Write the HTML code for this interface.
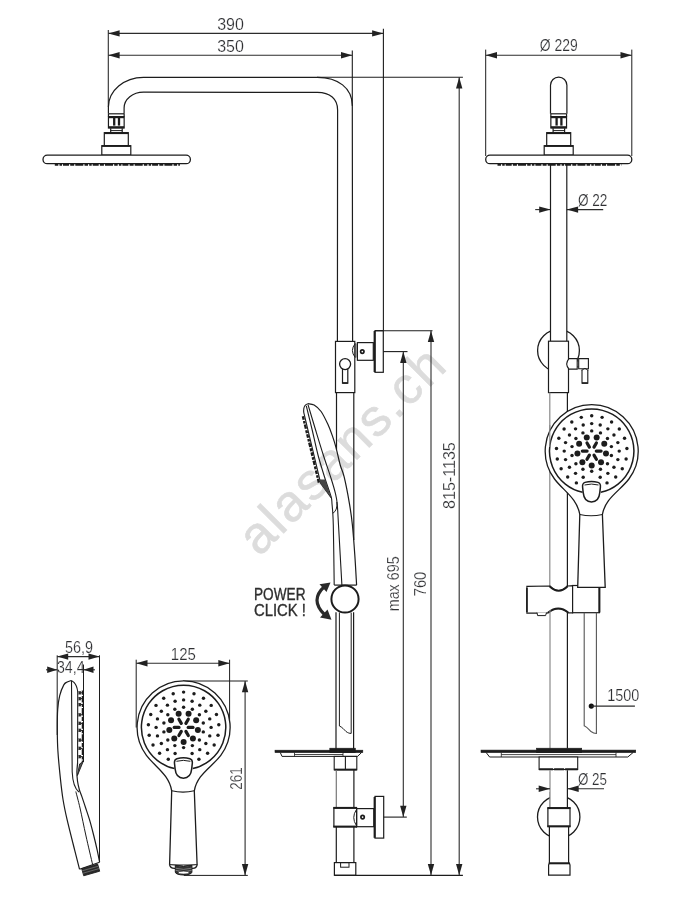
<!DOCTYPE html>
<html lang="en"><head><meta charset="utf-8"><title>Shower column - technical drawing</title>
<style>
html,body{margin:0;padding:0;background:#fff;}
body{width:690px;height:905px;overflow:hidden;}
svg{display:block;will-change:transform;}
svg text{font-family:"Liberation Sans",sans-serif;}
</style></head><body>
<svg width="690" height="905" viewBox="0 0 690 905">
<rect width="690" height="905" fill="#fff"/>
<g id="wm">
<text x="259.30" y="557.60" font-size="52" text-anchor="start" fill="#dcdcdc" transform="rotate(-45 259.30 557.60)" class="wm" letter-spacing="2.1" stroke="#dcdcdc" stroke-width="0.6">alasans.ch</text>
</g>
<g id="labels">
<text x="230.50" y="29.80" font-size="16" text-anchor="middle" fill="#303134" stroke="#fff" stroke-width="0.2" >390</text>
<text x="230.50" y="52.00" font-size="16" text-anchor="middle" fill="#303134" stroke="#fff" stroke-width="0.2" >350</text>
<text x="254.00" y="600.10" font-size="16.3" text-anchor="start" fill="#2e2e2e" textLength="51.5" lengthAdjust="spacingAndGlyphs" class="nothin" stroke="#2e2e2e" stroke-width="0.35">POWER</text>
<text x="254.00" y="616.30" font-size="16.3" text-anchor="start" fill="#2e2e2e" textLength="52" lengthAdjust="spacingAndGlyphs" class="nothin" stroke="#2e2e2e" stroke-width="0.35">CLICK !</text>
<text x="398.90" y="611.30" font-size="16" text-anchor="start" fill="#303134" transform="rotate(-90 398.90 611.30)" textLength="55" lengthAdjust="spacingAndGlyphs" stroke="#fff" stroke-width="0.2" >max 695</text>
<text x="426.10" y="596.30" font-size="16" text-anchor="start" fill="#303134" transform="rotate(-90 426.10 596.30)" textLength="24.6" lengthAdjust="spacingAndGlyphs" stroke="#fff" stroke-width="0.2" >760</text>
<text x="455.40" y="509.00" font-size="16" text-anchor="start" fill="#303134" transform="rotate(-90 455.40 509.00)" textLength="66.8" lengthAdjust="spacingAndGlyphs" stroke="#fff" stroke-width="0.2" >815-1135</text>
<text x="558.80" y="51.40" font-size="16" text-anchor="middle" fill="#303134" textLength="38" lengthAdjust="spacingAndGlyphs" stroke="#fff" stroke-width="0.2" >Ø 229</text>
<text x="577.90" y="205.60" font-size="16" text-anchor="start" fill="#303134" textLength="29.5" lengthAdjust="spacingAndGlyphs" stroke="#fff" stroke-width="0.2" >Ø 22</text>
<text x="607.20" y="701.40" font-size="16" text-anchor="start" fill="#303134" textLength="32" lengthAdjust="spacingAndGlyphs" stroke="#fff" stroke-width="0.2" >1500</text>
<text x="577.90" y="785.30" font-size="16" text-anchor="start" fill="#303134" textLength="29" lengthAdjust="spacingAndGlyphs" stroke="#fff" stroke-width="0.2" >Ø 25</text>
<text x="183.30" y="659.70" font-size="16" text-anchor="middle" fill="#303134" textLength="25" lengthAdjust="spacingAndGlyphs" stroke="#fff" stroke-width="0.2" >125</text>
<text x="242.20" y="789.80" font-size="16" text-anchor="start" fill="#303134" transform="rotate(-90 242.20 789.80)" textLength="22.5" lengthAdjust="spacingAndGlyphs" stroke="#fff" stroke-width="0.2" >261</text>
<text x="65.00" y="652.60" font-size="16" text-anchor="start" fill="#303134" textLength="28" lengthAdjust="spacingAndGlyphs" stroke="#fff" stroke-width="0.2" >56,9</text>
<text x="57.00" y="672.90" font-size="16" text-anchor="start" fill="#303134" textLength="27.5" lengthAdjust="spacingAndGlyphs" stroke="#fff" stroke-width="0.2" >34,4</text>
</g>
<g id="leftview">
<line x1="108.30" y1="30.00" x2="108.30" y2="107.00" stroke="#2c2c2c" stroke-width="1.1" />
<line x1="383.40" y1="28.80" x2="383.40" y2="330.70" stroke="#1c1c1c" stroke-width="1.1" />
<line x1="352.30" y1="50.60" x2="352.30" y2="106.00" stroke="#1c1c1c" stroke-width="1.1" />
<line x1="108.30" y1="33.40" x2="383.40" y2="33.40" stroke="#2c2c2c" stroke-width="1.1" />
<polygon points="108.30,33.40 119.60,30.20 119.60,36.60" fill="#222"/>
<polygon points="383.40,33.40 372.10,30.20 372.10,36.60" fill="#222"/>
<line x1="108.30" y1="55.20" x2="352.30" y2="55.20" stroke="#2c2c2c" stroke-width="1.1" />
<polygon points="108.30,55.20 119.60,52.00 119.60,58.40" fill="#222"/>
<polygon points="352.30,55.20 341.00,52.00 341.00,58.40" fill="#222"/>
<line x1="317.00" y1="77.30" x2="462.90" y2="77.30" stroke="#1c1c1c" stroke-width="1.1" />
<path d="M108.4,113.8 L108.4,107 C108.4,90.6 124.1,77.3 143.5,77.3 L317.4,77.3 C338,77.3 352.3,88 352.3,105.6 L352.6,341.4" stroke="#1c1c1c" stroke-width="1.2" fill="none" />
<path d="M124.1,113.8 L124.1,108 C124.1,99.2 132.8,92.2 143.5,92.2 L317.4,92.4 C330,92.4 337.6,99 337.6,110 L337.4,341.4" stroke="#1c1c1c" stroke-width="1.2" fill="none" />
<line x1="108.45" y1="113.80" x2="124.15" y2="113.80" stroke="#1c1c1c" stroke-width="1.2" />
<rect x="108.45" y="116.60" width="15.70" height="11.40" stroke="#1c1c1c" stroke-width="1.2" fill="none" />
<line x1="108.45" y1="113.80" x2="108.45" y2="116.60" stroke="#1c1c1c" stroke-width="1.2" />
<line x1="124.15" y1="113.80" x2="124.15" y2="116.60" stroke="#1c1c1c" stroke-width="1.2" />
<line x1="108.45" y1="117.30" x2="124.15" y2="117.30" stroke="#1c1c1c" stroke-width="1.8" />
<line x1="108.45" y1="127.20" x2="124.15" y2="127.20" stroke="#1c1c1c" stroke-width="2.0" />
<line x1="114.20" y1="118.00" x2="114.20" y2="125.60" stroke="#1c1c1c" stroke-width="2.3" />
<line x1="119.00" y1="118.00" x2="119.00" y2="125.60" stroke="#1c1c1c" stroke-width="2.3" />
<line x1="110.70" y1="128.30" x2="110.70" y2="132.00" stroke="#1c1c1c" stroke-width="1.2" />
<line x1="122.20" y1="128.30" x2="122.20" y2="132.00" stroke="#1c1c1c" stroke-width="1.2" />
<line x1="110.70" y1="130.60" x2="122.20" y2="130.60" stroke="#1c1c1c" stroke-width="1.0" />
<rect x="104.30" y="132.70" width="24.00" height="13.00" stroke="#1c1c1c" stroke-width="1.2" fill="none" />
<line x1="104.30" y1="133.10" x2="128.30" y2="133.10" stroke="#1c1c1c" stroke-width="2.0" />
<rect x="101.80" y="145.70" width="29.00" height="9.40" stroke="#1c1c1c" stroke-width="1.2" fill="none" />
<line x1="101.80" y1="146.10" x2="130.80" y2="146.10" stroke="#1c1c1c" stroke-width="1.6" />
<rect x="43.0" y="155.1" width="147.4" height="8.6" rx="4.3" ry="4.3" fill="#fff" stroke="#1c1c1c" stroke-width="1.3"/>
<line x1="54.80" y1="164.60" x2="179.90" y2="164.60" stroke="#1c1c1c" stroke-width="2.3" stroke-dasharray="3.5 1.2 2.5 1 6 1.2 4 1.1 8 1.2"/>
<rect x="335.50" y="341.40" width="19.30" height="51.20" stroke="#1c1c1c" stroke-width="1.2" fill="#fff" />
<circle cx="345.10" cy="364.10" r="5.50" stroke="#1c1c1c" stroke-width="1.3" fill="none"/>
<path d="M342.5,369 L342.5,383.2 L347.8,383.2 L347.8,369" stroke="#1c1c1c" stroke-width="1.2" fill="none" />
<line x1="342.50" y1="383.00" x2="347.80" y2="383.00" stroke="#1c1c1c" stroke-width="1.6" />
<rect x="357.40" y="342.60" width="15.90" height="17.70" stroke="#1c1c1c" stroke-width="1.2" fill="none" />
<path d="M355.2,343.6 Q349.6,350.5 355.2,357.4" stroke="#1c1c1c" stroke-width="1.0" fill="none" />
<line x1="355.90" y1="343.50" x2="355.90" y2="357.50" stroke="#1c1c1c" stroke-width="0.9" />
<circle cx="362.30" cy="351.60" r="1.70" stroke="#1c1c1c" stroke-width="1.7" fill="none"/>
<rect x="375.00" y="330.70" width="8.30" height="41.60" stroke="#1c1c1c" stroke-width="1.2" fill="none" />
<line x1="374.60" y1="331.00" x2="374.60" y2="372.00" stroke="#1c1c1c" stroke-width="2.0" />
<line x1="375.00" y1="330.70" x2="432.50" y2="330.70" stroke="#1c1c1c" stroke-width="1.1" />
<line x1="383.30" y1="351.60" x2="407.50" y2="351.60" stroke="#1c1c1c" stroke-width="1.1" />
<line x1="336.50" y1="392.60" x2="336.50" y2="449.50" stroke="#1c1c1c" stroke-width="1.2" />
<line x1="353.80" y1="392.60" x2="353.80" y2="540.00" stroke="#1c1c1c" stroke-width="1.2" />
<path d="M308.00,403.70 C309.02,403.92 311.92,403.70 314.10,405.00 C316.28,406.30 318.78,408.23 321.10,411.50 C323.42,414.77 326.12,420.53 328.00,424.60 C329.88,428.67 331.08,432.13 332.40,435.90 C333.72,439.67 334.60,442.35 335.90,447.20 C337.20,452.05 338.83,460.08 340.20,465.00 C341.57,469.92 342.58,470.40 344.10,476.70 C345.62,483.00 347.92,494.75 349.30,502.80 C350.68,510.85 351.48,516.30 352.40,525.00 C353.32,533.70 354.10,544.98 354.80,555.00 C355.50,565.02 356.30,580.08 356.60,585.10" stroke="#1c1c1c" stroke-width="1.2" fill="none" />
<path d="M308,403.7 C305.8,404.3 304.2,406 303.8,408.6 C303.6,410 303.6,411.3 303.8,412.6 L320.7,483.3 L331.1,497.6" stroke="#1c1c1c" stroke-width="1.1" fill="none" />
<path d="M306.30,405.90 C307.28,409.92 310.25,421.82 312.20,430.00 C314.15,438.18 315.87,446.92 318.00,455.00 C320.13,463.08 322.82,471.55 325.00,478.50 C327.18,485.45 329.93,492.50 331.10,496.70 C332.27,500.90 331.72,500.93 332.00,503.70 C332.28,506.47 332.58,509.75 332.80,513.30 C333.02,516.85 333.13,518.05 333.30,525.00 C333.47,531.95 333.65,544.98 333.80,555.00 C333.95,565.02 334.13,580.08 334.20,585.10" stroke="#1c1c1c" stroke-width="1.1" fill="none" />
<path d="M308.00,404.60 C309.27,408.83 313.05,421.60 315.60,430.00 C318.15,438.40 320.72,446.92 323.30,455.00 C325.88,463.08 329.08,472.12 331.10,478.50 C333.12,484.88 334.38,489.10 335.40,493.30 C336.42,497.50 336.68,498.42 337.20,503.70 C337.72,508.98 338.00,516.45 338.50,525.00 C339.00,533.55 339.63,544.98 340.20,555.00 C340.77,565.02 341.62,580.08 341.90,585.10" stroke="#1c1c1c" stroke-width="1.1" fill="none" />
<path d="M336.9,502 Q337.6,510.5 332.8,513.3" stroke="#1c1c1c" stroke-width="1.0" fill="none" />
<line x1="334.20" y1="585.10" x2="356.60" y2="585.10" stroke="#1c1c1c" stroke-width="1.2" />
<path d="M302.9,416.2 L318.9,482.6" stroke="#1c1c1c" stroke-width="2.4" fill="none" stroke-dasharray="3.6 1.3 2.6 1.1 4.4 1.4 3 1.2"/>
<polygon points="319.6,479.5 320.4,483.5 331.1,497.8 328.8,490.5 325.3,479.5" fill="#444"/>
<circle cx="345.00" cy="599.00" r="13.60" stroke="#1c1c1c" stroke-width="2.0" fill="#fff"/>
<path d="M324.5,586.5 Q309.5,600 324.5,614.5" stroke="#2a2a2a" stroke-width="3.2" fill="none" />
<polygon points="330.5,582.5 319.5,584.2 326.5,592" fill="#2a2a2a"/>
<polygon points="331.5,619.8 320,617.5 327.5,609.5" fill="#2a2a2a"/>
<line x1="336.00" y1="612.30" x2="336.00" y2="750.00" stroke="#1c1c1c" stroke-width="1.2" />
<line x1="353.60" y1="612.30" x2="353.60" y2="750.00" stroke="#1c1c1c" stroke-width="1.2" />
<path d="M339.4,612.6 L339.4,726 C342,727 344,729.5 346,731.5 C348,733 349.5,733.4 351.2,733.4 L351.2,612.6" stroke="#1c1c1c" stroke-width="1.0" fill="none" />
<rect x="275.00" y="750.20" width="87.80" height="2.40" stroke="#1c1c1c" stroke-width="0.6" fill="#1c1c1c" />
<rect x="329.80" y="748.20" width="25.60" height="4.40" stroke="#1c1c1c" stroke-width="0.6" fill="#1c1c1c" />
<path d="M280.3,752.6 L282,756.4 L357.5,756.4 L361.5,752.6" stroke="#1c1c1c" stroke-width="1.0" fill="none" />
<line x1="294.50" y1="754.50" x2="343.00" y2="754.50" stroke="#1c1c1c" stroke-width="0.8" />
<line x1="294.50" y1="752.60" x2="294.50" y2="756.40" stroke="#1c1c1c" stroke-width="0.8" />
<line x1="343.00" y1="752.60" x2="343.00" y2="756.40" stroke="#1c1c1c" stroke-width="0.8" />
<rect x="334.20" y="756.40" width="22.60" height="13.40" stroke="#1c1c1c" stroke-width="1.1" fill="#fff" />
<line x1="345.40" y1="756.40" x2="345.40" y2="769.80" stroke="#1c1c1c" stroke-width="1.1" />
<line x1="334.20" y1="769.60" x2="356.80" y2="769.60" stroke="#1c1c1c" stroke-width="1.9" />
<line x1="336.30" y1="770.00" x2="336.30" y2="807.80" stroke="#777" stroke-width="1.2" />
<line x1="353.90" y1="770.00" x2="353.90" y2="807.80" stroke="#1c1c1c" stroke-width="1.2" />
<line x1="336.30" y1="826.70" x2="336.30" y2="862.60" stroke="#1c1c1c" stroke-width="1.2" />
<line x1="353.90" y1="826.70" x2="353.90" y2="862.60" stroke="#1c1c1c" stroke-width="1.2" />
<rect x="333.90" y="807.80" width="22.70" height="18.90" stroke="#1c1c1c" stroke-width="1.2" fill="#fff" />
<line x1="333.30" y1="807.90" x2="357.00" y2="807.90" stroke="#1c1c1c" stroke-width="2.0" />
<line x1="333.30" y1="826.60" x2="357.00" y2="826.60" stroke="#1c1c1c" stroke-width="2.0" />
<rect x="356.60" y="808.60" width="17.20" height="18.10" stroke="#1c1c1c" stroke-width="1.2" fill="none" />
<path d="M356.3,809.8 Q351.2,817.5 356.3,825.4" stroke="#1c1c1c" stroke-width="1.0" fill="none" />
<circle cx="362.60" cy="817.10" r="1.70" stroke="#1c1c1c" stroke-width="1.7" fill="none"/>
<rect x="375.00" y="796.40" width="8.70" height="41.70" stroke="#1c1c1c" stroke-width="1.2" fill="none" />
<line x1="374.60" y1="797.00" x2="374.60" y2="837.80" stroke="#1c1c1c" stroke-width="2.0" />
<line x1="383.70" y1="817.10" x2="406.80" y2="817.10" stroke="#1c1c1c" stroke-width="1.1" />
<rect x="334.40" y="862.60" width="21.40" height="12.70" stroke="#1c1c1c" stroke-width="1.2" fill="#fff" />
<rect x="340.60" y="862.60" width="8.40" height="4.60" stroke="#1c1c1c" stroke-width="1.0" fill="none" />
<line x1="334.40" y1="875.30" x2="462.90" y2="875.30" stroke="#1c1c1c" stroke-width="1.2" />
<line x1="403.30" y1="351.60" x2="403.30" y2="817.10" stroke="#2c2c2c" stroke-width="1.1" />
<polygon points="403.30,351.60 400.10,362.90 406.50,362.90" fill="#222"/>
<polygon points="403.30,817.10 400.10,805.80 406.50,805.80" fill="#222"/>
<line x1="431.00" y1="330.70" x2="431.00" y2="875.30" stroke="#2c2c2c" stroke-width="1.1" />
<polygon points="431.00,330.70 427.80,342.00 434.20,342.00" fill="#222"/>
<polygon points="431.00,875.30 427.80,864.00 434.20,864.00" fill="#222"/>
<line x1="459.20" y1="77.30" x2="459.20" y2="875.30" stroke="#2c2c2c" stroke-width="1.1" />
<polygon points="459.20,77.30 456.00,88.60 462.40,88.60" fill="#222"/>
<polygon points="459.20,875.30 456.00,864.00 462.40,864.00" fill="#222"/>
</g>
<g id="rightview">
<line x1="485.70" y1="49.60" x2="485.70" y2="156.00" stroke="#1c1c1c" stroke-width="1.0" />
<line x1="631.80" y1="49.60" x2="631.80" y2="156.00" stroke="#1c1c1c" stroke-width="1.0" />
<line x1="485.70" y1="55.30" x2="631.80" y2="55.30" stroke="#2c2c2c" stroke-width="1.1" />
<polygon points="485.70,55.30 497.00,52.10 497.00,58.50" fill="#222"/>
<polygon points="631.80,55.30 620.50,52.10 620.50,58.50" fill="#222"/>
<path d="M550.5,113.8 L550.5,85.3 A8.2,8.2 0 0 1 566.9,85.3 L566.9,113.8" stroke="#1c1c1c" stroke-width="1.2" fill="#fff" />
<line x1="550.85" y1="113.80" x2="566.55" y2="113.80" stroke="#1c1c1c" stroke-width="1.2" />
<rect x="550.85" y="116.60" width="15.70" height="11.40" stroke="#1c1c1c" stroke-width="1.2" fill="none" />
<line x1="550.85" y1="113.80" x2="550.85" y2="116.60" stroke="#1c1c1c" stroke-width="1.2" />
<line x1="566.55" y1="113.80" x2="566.55" y2="116.60" stroke="#1c1c1c" stroke-width="1.2" />
<line x1="550.85" y1="117.30" x2="566.55" y2="117.30" stroke="#1c1c1c" stroke-width="1.8" />
<line x1="550.85" y1="127.20" x2="566.55" y2="127.20" stroke="#1c1c1c" stroke-width="2.0" />
<line x1="556.60" y1="118.00" x2="556.60" y2="125.60" stroke="#1c1c1c" stroke-width="2.3" />
<line x1="561.40" y1="118.00" x2="561.40" y2="125.60" stroke="#1c1c1c" stroke-width="2.3" />
<line x1="553.10" y1="128.30" x2="553.10" y2="132.00" stroke="#1c1c1c" stroke-width="1.2" />
<line x1="564.60" y1="128.30" x2="564.60" y2="132.00" stroke="#1c1c1c" stroke-width="1.2" />
<line x1="553.10" y1="130.60" x2="564.60" y2="130.60" stroke="#1c1c1c" stroke-width="1.0" />
<rect x="546.70" y="132.70" width="24.00" height="13.00" stroke="#1c1c1c" stroke-width="1.2" fill="none" />
<line x1="546.70" y1="133.10" x2="570.70" y2="133.10" stroke="#1c1c1c" stroke-width="2.0" />
<rect x="544.20" y="145.70" width="29.00" height="9.40" stroke="#1c1c1c" stroke-width="1.2" fill="none" />
<line x1="544.20" y1="146.10" x2="573.20" y2="146.10" stroke="#1c1c1c" stroke-width="1.6" />
<rect x="485.7" y="155.1" width="146.09999999999997" height="8.6" rx="4.3" ry="4.3" fill="#fff" stroke="#1c1c1c" stroke-width="1.3"/>
<line x1="497.50" y1="164.60" x2="621.30" y2="164.60" stroke="#1c1c1c" stroke-width="2.3" stroke-dasharray="3.5 1.2 2.5 1 6 1.2 4 1.1 8 1.2"/>
<line x1="535.20" y1="209.60" x2="550.50" y2="209.60" stroke="#2c2c2c" stroke-width="1.1" />
<polygon points="550.50,209.60 539.20,206.40 539.20,212.80" fill="#222"/>
<line x1="566.80" y1="209.60" x2="603.20" y2="209.60" stroke="#2c2c2c" stroke-width="1.1" />
<polygon points="566.80,209.60 578.10,206.40 578.10,212.80" fill="#222"/>
<circle cx="558.50" cy="350.60" r="20.90" stroke="#1c1c1c" stroke-width="1.3" fill="none"/>
<rect x="550.50" y="325.00" width="16.30" height="17.00" stroke="none" stroke-width="0" fill="#fff" />
<line x1="550.50" y1="164.00" x2="550.50" y2="341.20" stroke="#1c1c1c" stroke-width="1.2" />
<line x1="566.80" y1="164.00" x2="566.80" y2="341.20" stroke="#1c1c1c" stroke-width="1.2" />
<rect x="548.50" y="341.20" width="20.00" height="51.40" stroke="#1c1c1c" stroke-width="1.2" fill="#fff" />
<path d="M569,358.6 L577.2,358.6 L577.2,369.1 L569,369.1 Q564.4,363.9 569,358.6 Z" stroke="#1c1c1c" stroke-width="1.1" fill="#fff" />
<line x1="577.20" y1="361.00" x2="578.70" y2="361.00" stroke="#1c1c1c" stroke-width="0.8" />
<line x1="577.20" y1="366.80" x2="578.70" y2="366.80" stroke="#1c1c1c" stroke-width="0.8" />
<path d="M578.7,358.6 L588.4,358.6 L588.4,368.7 L578.7,368.7 Z" stroke="#1c1c1c" stroke-width="1.1" fill="#fff" />
<path d="M582,369.5 L582,383.2 L587.8,383.2 L587.8,369.5" stroke="#1c1c1c" stroke-width="1.1" fill="none" />
<path d="M582,370.5 Q584.9,366.5 587.8,370.5" stroke="#1c1c1c" stroke-width="1.0" fill="none" />
<line x1="582.00" y1="383.00" x2="587.80" y2="383.00" stroke="#1c1c1c" stroke-width="1.6" />
<line x1="549.80" y1="392.60" x2="549.80" y2="586.00" stroke="#8a8a8a" stroke-width="1.2" />
<line x1="567.40" y1="392.60" x2="567.40" y2="586.00" stroke="#1c1c1c" stroke-width="1.2" />
</g>
<g id="rightview2">
<path d="M526.9,586.4 L549.6,586 Q558.7,595 567.6,586 L572.6,585.6 L572.6,612.9 L568.4,612.9 Q558.3,604.6 548,612.9 L546.5,613.1 L526.9,613.1 Z" stroke="#1c1c1c" stroke-width="1.2" fill="#fff" />
<path d="M549.6,586.2 Q558.7,595.2 567.6,586.2" stroke="#1c1c1c" stroke-width="2.0" fill="none" />
<path d="M548,612.7 Q558.3,604.4 568.4,612.7" stroke="#1c1c1c" stroke-width="2.0" fill="none" />
<path d="M537,612.6 L537.6,615.6 L545.6,615.6 L546.5,612.6" stroke="#1c1c1c" stroke-width="1.0" fill="#fff" />
<rect x="572.60" y="585.50" width="26.80" height="27.20" stroke="#1c1c1c" stroke-width="1.2" fill="#fff" />
<line x1="599.40" y1="587.00" x2="599.40" y2="612.50" stroke="#1c1c1c" stroke-width="2.0" />
<line x1="526.90" y1="588.00" x2="526.90" y2="612.00" stroke="#1c1c1c" stroke-width="1.6" />
<path d="M554.50,479.00 A46.5,46.5 0 1 1 628.90,479.00 C619.70,491.10 605.20,498.10 602.40,514.50 L605.20,587.40 L577.70,587.40 L579.80,514.50 C577.00,498.10 563.70,491.10 554.50,479.00 Z" stroke="#1c1c1c" stroke-width="1.3" fill="#fff" />
<path d="M579.80,514.50 Q591.10,517.10 602.40,514.50" stroke="#1c1c1c" stroke-width="1.1" fill="none" />
<path d="M582.57,492.30 A42.2,42.2 0 1 1 600.83,492.30" stroke="#1c1c1c" stroke-width="1.5" fill="none" />
<path d="M585.00,482.40 Q591.50,480.60 598.00,482.40 Q600.80,483.30 600.40,487.10 L599.80,492.60 Q598.90,501.90 591.50,501.90 Q584.10,501.90 583.20,492.60 L582.60,487.10 Q582.20,483.30 585.00,482.40 Z" stroke="#1c1c1c" stroke-width="1.5" fill="#fff" />
<path d="M584.50,485.00 Q591.50,483.10 598.50,485.00" stroke="#1c1c1c" stroke-width="1.0" fill="none" />
<circle cx="591.70" cy="415.80" r="1.72" fill="#1c1c1c"/>
<circle cx="602.10" cy="417.37" r="1.72" fill="#1c1c1c"/>
<circle cx="611.59" cy="421.93" r="1.72" fill="#1c1c1c"/>
<circle cx="619.30" cy="429.09" r="1.72" fill="#1c1c1c"/>
<circle cx="624.56" cy="438.20" r="1.72" fill="#1c1c1c"/>
<circle cx="626.90" cy="448.46" r="1.72" fill="#1c1c1c"/>
<circle cx="626.11" cy="458.95" r="1.72" fill="#1c1c1c"/>
<circle cx="622.27" cy="468.75" r="1.72" fill="#1c1c1c"/>
<circle cx="615.71" cy="476.98" r="1.72" fill="#1c1c1c"/>
<circle cx="607.02" cy="482.90" r="1.72" fill="#1c1c1c"/>
<circle cx="576.38" cy="482.90" r="1.72" fill="#1c1c1c"/>
<circle cx="567.69" cy="476.98" r="1.72" fill="#1c1c1c"/>
<circle cx="561.13" cy="468.75" r="1.72" fill="#1c1c1c"/>
<circle cx="557.29" cy="458.95" r="1.72" fill="#1c1c1c"/>
<circle cx="556.50" cy="448.46" r="1.72" fill="#1c1c1c"/>
<circle cx="558.84" cy="438.20" r="1.72" fill="#1c1c1c"/>
<circle cx="564.10" cy="429.09" r="1.72" fill="#1c1c1c"/>
<circle cx="571.81" cy="421.93" r="1.72" fill="#1c1c1c"/>
<circle cx="581.30" cy="417.37" r="1.72" fill="#1c1c1c"/>
<circle cx="591.70" cy="423.60" r="1.72" fill="#1c1c1c"/>
<circle cx="600.20" cy="424.95" r="1.72" fill="#1c1c1c"/>
<circle cx="607.86" cy="428.85" r="1.72" fill="#1c1c1c"/>
<circle cx="613.95" cy="434.94" r="1.72" fill="#1c1c1c"/>
<circle cx="617.85" cy="442.60" r="1.72" fill="#1c1c1c"/>
<circle cx="619.20" cy="451.10" r="1.72" fill="#1c1c1c"/>
<circle cx="617.85" cy="459.60" r="1.72" fill="#1c1c1c"/>
<circle cx="613.95" cy="467.26" r="1.72" fill="#1c1c1c"/>
<circle cx="607.86" cy="473.35" r="1.72" fill="#1c1c1c"/>
<circle cx="600.20" cy="477.25" r="1.72" fill="#1c1c1c"/>
<circle cx="583.20" cy="477.25" r="1.72" fill="#1c1c1c"/>
<circle cx="575.54" cy="473.35" r="1.72" fill="#1c1c1c"/>
<circle cx="569.45" cy="467.26" r="1.72" fill="#1c1c1c"/>
<circle cx="565.55" cy="459.60" r="1.72" fill="#1c1c1c"/>
<circle cx="564.20" cy="451.10" r="1.72" fill="#1c1c1c"/>
<circle cx="565.55" cy="442.60" r="1.72" fill="#1c1c1c"/>
<circle cx="569.45" cy="434.94" r="1.72" fill="#1c1c1c"/>
<circle cx="575.54" cy="428.85" r="1.72" fill="#1c1c1c"/>
<circle cx="583.20" cy="424.95" r="1.72" fill="#1c1c1c"/>
<circle cx="591.70" cy="430.90" r="1.72" fill="#1c1c1c"/>
<circle cx="600.46" cy="432.90" r="1.72" fill="#1c1c1c"/>
<circle cx="607.49" cy="438.51" r="1.72" fill="#1c1c1c"/>
<circle cx="611.39" cy="446.61" r="1.72" fill="#1c1c1c"/>
<circle cx="611.39" cy="455.59" r="1.72" fill="#1c1c1c"/>
<circle cx="607.49" cy="463.69" r="1.72" fill="#1c1c1c"/>
<circle cx="600.46" cy="469.30" r="1.72" fill="#1c1c1c"/>
<circle cx="591.70" cy="471.30" r="1.72" fill="#1c1c1c"/>
<circle cx="582.94" cy="469.30" r="1.72" fill="#1c1c1c"/>
<circle cx="575.91" cy="463.69" r="1.72" fill="#1c1c1c"/>
<circle cx="572.01" cy="455.59" r="1.72" fill="#1c1c1c"/>
<circle cx="572.01" cy="446.61" r="1.72" fill="#1c1c1c"/>
<circle cx="575.91" cy="438.51" r="1.72" fill="#1c1c1c"/>
<circle cx="582.94" cy="432.90" r="1.72" fill="#1c1c1c"/>
<circle cx="591.70" cy="465.60" r="3.00" fill="#1c1c1c"/>
<circle cx="582.38" cy="462.21" r="3.00" fill="#1c1c1c"/>
<circle cx="577.42" cy="453.62" r="3.00" fill="#1c1c1c"/>
<circle cx="579.14" cy="443.85" r="3.00" fill="#1c1c1c"/>
<circle cx="586.74" cy="437.47" r="3.00" fill="#1c1c1c"/>
<circle cx="596.66" cy="437.47" r="3.00" fill="#1c1c1c"/>
<circle cx="604.26" cy="443.85" r="3.00" fill="#1c1c1c"/>
<circle cx="605.98" cy="453.62" r="3.00" fill="#1c1c1c"/>
<circle cx="601.02" cy="462.21" r="3.00" fill="#1c1c1c"/>
<line x1="596.30" y1="451.10" x2="601.10" y2="451.10" stroke="#1c1c1c" stroke-width="3.2" stroke-linecap="round"/>
<line x1="594.00" y1="455.08" x2="596.40" y2="459.24" stroke="#1c1c1c" stroke-width="3.2" stroke-linecap="round"/>
<line x1="589.40" y1="455.08" x2="587.00" y2="459.24" stroke="#1c1c1c" stroke-width="3.2" stroke-linecap="round"/>
<line x1="587.10" y1="451.10" x2="582.30" y2="451.10" stroke="#1c1c1c" stroke-width="3.2" stroke-linecap="round"/>
<line x1="589.40" y1="447.12" x2="587.00" y2="442.96" stroke="#1c1c1c" stroke-width="3.2" stroke-linecap="round"/>
<line x1="594.00" y1="447.12" x2="596.40" y2="442.96" stroke="#1c1c1c" stroke-width="3.2" stroke-linecap="round"/>
<line x1="549.80" y1="425.00" x2="549.80" y2="447.00" stroke="#8a8a8a" stroke-width="1.1" />
<line x1="550.00" y1="610.00" x2="550.00" y2="748.50" stroke="#8a8a8a" stroke-width="1.2" />
<line x1="567.40" y1="612.90" x2="567.40" y2="748.50" stroke="#1c1c1c" stroke-width="1.2" />
<path d="M584.2,612.7 L584.2,725.8 C587,727 589,729.5 591,731.5 C593,733 594.5,733.5 596.4,733.5 L596.4,612.7" stroke="#555" stroke-width="1.1" fill="none" />
<circle cx="591.30" cy="706.10" r="2.60" fill="#111"/>
<line x1="591.30" y1="706.10" x2="634.90" y2="706.10" stroke="#2c2c2c" stroke-width="1.1" />
<rect x="481.00" y="750.10" width="154.70" height="2.50" stroke="#1c1c1c" stroke-width="0.6" fill="#1c1c1c" />
<rect x="536.50" y="748.20" width="45.20" height="4.40" stroke="#1c1c1c" stroke-width="0.6" fill="#1c1c1c" />
<path d="M486.2,752.6 L489.6,757 L627.8,757 L633,752.6" stroke="#1c1c1c" stroke-width="1.0" fill="none" />
<line x1="501.30" y1="754.60" x2="616.00" y2="754.60" stroke="#1c1c1c" stroke-width="0.8" />
<line x1="501.30" y1="752.60" x2="501.30" y2="757.00" stroke="#1c1c1c" stroke-width="0.8" />
<line x1="616.00" y1="752.60" x2="616.00" y2="757.00" stroke="#1c1c1c" stroke-width="0.8" />
<rect x="539.10" y="757.00" width="38.60" height="12.50" stroke="#1c1c1c" stroke-width="1.1" fill="#fff" />
<line x1="539.10" y1="769.30" x2="577.70" y2="769.30" stroke="#1c1c1c" stroke-width="1.9" stroke-dasharray="14 1 10 1 14"/>
<line x1="550.00" y1="770.30" x2="550.00" y2="808.00" stroke="#8a8a8a" stroke-width="1.2" />
<line x1="567.40" y1="770.30" x2="567.40" y2="808.00" stroke="#1c1c1c" stroke-width="1.2" />
<line x1="536.00" y1="788.80" x2="550.00" y2="788.80" stroke="#2c2c2c" stroke-width="1.1" />
<polygon points="550.00,788.80 538.70,785.60 538.70,792.00" fill="#222"/>
<line x1="567.40" y1="788.80" x2="604.00" y2="788.80" stroke="#2c2c2c" stroke-width="1.1" />
<polygon points="567.40,788.80 578.70,785.60 578.70,792.00" fill="#222"/>
<circle cx="558.70" cy="817.00" r="21.20" stroke="#1c1c1c" stroke-width="1.3" fill="none"/>
<rect x="550.00" y="792.00" width="17.40" height="16.00" stroke="none" stroke-width="0" fill="#fff" />
<rect x="549.40" y="826.00" width="19.20" height="16.00" stroke="none" stroke-width="0" fill="#fff" />
<line x1="550.00" y1="792.00" x2="550.00" y2="808.00" stroke="#8a8a8a" stroke-width="1.2" />
<line x1="567.40" y1="792.00" x2="567.40" y2="808.00" stroke="#1c1c1c" stroke-width="1.2" />
<rect x="547.90" y="807.90" width="22.10" height="18.60" stroke="#1c1c1c" stroke-width="1.2" fill="#fff" />
<line x1="547.40" y1="808.10" x2="570.50" y2="808.10" stroke="#1c1c1c" stroke-width="2.0" />
<line x1="547.40" y1="826.30" x2="570.50" y2="826.30" stroke="#1c1c1c" stroke-width="2.0" />
<line x1="549.40" y1="826.50" x2="549.40" y2="863.00" stroke="#1c1c1c" stroke-width="1.2" />
<line x1="568.60" y1="826.50" x2="568.60" y2="863.00" stroke="#1c1c1c" stroke-width="1.2" />
<path d="M549.2,863 L569.4,863 L570,865 L570,875.2 L548.6,875.2 L548.6,865 Z" stroke="#1c1c1c" stroke-width="1.2" fill="#fff" />
<line x1="549.00" y1="863.40" x2="569.60" y2="863.40" stroke="#1c1c1c" stroke-width="1.8" />
</g>
<g id="hsfront">
<line x1="136.20" y1="659.70" x2="136.20" y2="727.50" stroke="#1c1c1c" stroke-width="1.0" />
<line x1="229.60" y1="659.70" x2="229.60" y2="727.50" stroke="#1c1c1c" stroke-width="1.0" />
<line x1="136.20" y1="663.30" x2="229.60" y2="663.30" stroke="#2c2c2c" stroke-width="1.1" />
<polygon points="136.20,663.30 147.50,660.10 147.50,666.50" fill="#222"/>
<polygon points="229.60,663.30 218.30,660.10 218.30,666.50" fill="#222"/>
<line x1="183.00" y1="681.00" x2="247.80" y2="681.00" stroke="#1c1c1c" stroke-width="1.0" />
<line x1="183.80" y1="875.40" x2="247.80" y2="875.40" stroke="#1c1c1c" stroke-width="1.0" />
<line x1="245.10" y1="681.00" x2="245.10" y2="875.40" stroke="#2c2c2c" stroke-width="1.1" />
<polygon points="245.10,681.00 241.90,692.30 248.30,692.30" fill="#222"/>
<polygon points="245.10,875.40 241.90,864.10 248.30,864.10" fill="#222"/>
<path d="M146.40,755.30 A46.5,46.5 0 1 1 220.80,755.30 C211.60,767.40 197.10,774.40 194.30,790.80 L197.10,864.60 L169.60,864.60 L171.70,790.80 C168.90,774.40 155.60,767.40 146.40,755.30 Z" stroke="#1c1c1c" stroke-width="1.3" fill="#fff" />
<path d="M171.70,790.80 Q183.00,793.40 194.30,790.80" stroke="#1c1c1c" stroke-width="1.1" fill="none" />
<path d="M174.47,768.60 A42.2,42.2 0 1 1 192.73,768.60" stroke="#1c1c1c" stroke-width="1.5" fill="none" />
<path d="M176.90,758.70 Q183.40,756.90 189.90,758.70 Q192.70,759.60 192.30,763.40 L191.70,768.90 Q190.80,778.20 183.40,778.20 Q176.00,778.20 175.10,768.90 L174.50,763.40 Q174.10,759.60 176.90,758.70 Z" stroke="#1c1c1c" stroke-width="1.5" fill="#fff" />
<path d="M176.40,761.30 Q183.40,759.40 190.40,761.30" stroke="#1c1c1c" stroke-width="1.0" fill="none" />
<circle cx="183.60" cy="692.10" r="1.72" fill="#1c1c1c"/>
<circle cx="194.00" cy="693.67" r="1.72" fill="#1c1c1c"/>
<circle cx="203.49" cy="698.23" r="1.72" fill="#1c1c1c"/>
<circle cx="211.20" cy="705.39" r="1.72" fill="#1c1c1c"/>
<circle cx="216.46" cy="714.50" r="1.72" fill="#1c1c1c"/>
<circle cx="218.80" cy="724.76" r="1.72" fill="#1c1c1c"/>
<circle cx="218.01" cy="735.25" r="1.72" fill="#1c1c1c"/>
<circle cx="214.17" cy="745.05" r="1.72" fill="#1c1c1c"/>
<circle cx="207.61" cy="753.28" r="1.72" fill="#1c1c1c"/>
<circle cx="198.92" cy="759.20" r="1.72" fill="#1c1c1c"/>
<circle cx="168.28" cy="759.20" r="1.72" fill="#1c1c1c"/>
<circle cx="159.59" cy="753.28" r="1.72" fill="#1c1c1c"/>
<circle cx="153.03" cy="745.05" r="1.72" fill="#1c1c1c"/>
<circle cx="149.19" cy="735.25" r="1.72" fill="#1c1c1c"/>
<circle cx="148.40" cy="724.76" r="1.72" fill="#1c1c1c"/>
<circle cx="150.74" cy="714.50" r="1.72" fill="#1c1c1c"/>
<circle cx="156.00" cy="705.39" r="1.72" fill="#1c1c1c"/>
<circle cx="163.71" cy="698.23" r="1.72" fill="#1c1c1c"/>
<circle cx="173.20" cy="693.67" r="1.72" fill="#1c1c1c"/>
<circle cx="183.60" cy="699.90" r="1.72" fill="#1c1c1c"/>
<circle cx="192.10" cy="701.25" r="1.72" fill="#1c1c1c"/>
<circle cx="199.76" cy="705.15" r="1.72" fill="#1c1c1c"/>
<circle cx="205.85" cy="711.24" r="1.72" fill="#1c1c1c"/>
<circle cx="209.75" cy="718.90" r="1.72" fill="#1c1c1c"/>
<circle cx="211.10" cy="727.40" r="1.72" fill="#1c1c1c"/>
<circle cx="209.75" cy="735.90" r="1.72" fill="#1c1c1c"/>
<circle cx="205.85" cy="743.56" r="1.72" fill="#1c1c1c"/>
<circle cx="199.76" cy="749.65" r="1.72" fill="#1c1c1c"/>
<circle cx="192.10" cy="753.55" r="1.72" fill="#1c1c1c"/>
<circle cx="175.10" cy="753.55" r="1.72" fill="#1c1c1c"/>
<circle cx="167.44" cy="749.65" r="1.72" fill="#1c1c1c"/>
<circle cx="161.35" cy="743.56" r="1.72" fill="#1c1c1c"/>
<circle cx="157.45" cy="735.90" r="1.72" fill="#1c1c1c"/>
<circle cx="156.10" cy="727.40" r="1.72" fill="#1c1c1c"/>
<circle cx="157.45" cy="718.90" r="1.72" fill="#1c1c1c"/>
<circle cx="161.35" cy="711.24" r="1.72" fill="#1c1c1c"/>
<circle cx="167.44" cy="705.15" r="1.72" fill="#1c1c1c"/>
<circle cx="175.10" cy="701.25" r="1.72" fill="#1c1c1c"/>
<circle cx="183.60" cy="707.20" r="1.72" fill="#1c1c1c"/>
<circle cx="192.36" cy="709.20" r="1.72" fill="#1c1c1c"/>
<circle cx="199.39" cy="714.81" r="1.72" fill="#1c1c1c"/>
<circle cx="203.29" cy="722.91" r="1.72" fill="#1c1c1c"/>
<circle cx="203.29" cy="731.89" r="1.72" fill="#1c1c1c"/>
<circle cx="199.39" cy="739.99" r="1.72" fill="#1c1c1c"/>
<circle cx="192.36" cy="745.60" r="1.72" fill="#1c1c1c"/>
<circle cx="183.60" cy="747.60" r="1.72" fill="#1c1c1c"/>
<circle cx="174.84" cy="745.60" r="1.72" fill="#1c1c1c"/>
<circle cx="167.81" cy="739.99" r="1.72" fill="#1c1c1c"/>
<circle cx="163.91" cy="731.89" r="1.72" fill="#1c1c1c"/>
<circle cx="163.91" cy="722.91" r="1.72" fill="#1c1c1c"/>
<circle cx="167.81" cy="714.81" r="1.72" fill="#1c1c1c"/>
<circle cx="174.84" cy="709.20" r="1.72" fill="#1c1c1c"/>
<circle cx="183.60" cy="741.90" r="3.00" fill="#1c1c1c"/>
<circle cx="174.28" cy="738.51" r="3.00" fill="#1c1c1c"/>
<circle cx="169.32" cy="729.92" r="3.00" fill="#1c1c1c"/>
<circle cx="171.04" cy="720.15" r="3.00" fill="#1c1c1c"/>
<circle cx="178.64" cy="713.77" r="3.00" fill="#1c1c1c"/>
<circle cx="188.56" cy="713.77" r="3.00" fill="#1c1c1c"/>
<circle cx="196.16" cy="720.15" r="3.00" fill="#1c1c1c"/>
<circle cx="197.88" cy="729.92" r="3.00" fill="#1c1c1c"/>
<circle cx="192.92" cy="738.51" r="3.00" fill="#1c1c1c"/>
<line x1="188.20" y1="727.40" x2="193.00" y2="727.40" stroke="#1c1c1c" stroke-width="3.2" stroke-linecap="round"/>
<line x1="185.90" y1="731.38" x2="188.30" y2="735.54" stroke="#1c1c1c" stroke-width="3.2" stroke-linecap="round"/>
<line x1="181.30" y1="731.38" x2="178.90" y2="735.54" stroke="#1c1c1c" stroke-width="3.2" stroke-linecap="round"/>
<line x1="179.00" y1="727.40" x2="174.20" y2="727.40" stroke="#1c1c1c" stroke-width="3.2" stroke-linecap="round"/>
<line x1="181.30" y1="723.42" x2="178.90" y2="719.26" stroke="#1c1c1c" stroke-width="3.2" stroke-linecap="round"/>
<line x1="185.90" y1="723.42" x2="188.30" y2="719.26" stroke="#1c1c1c" stroke-width="3.2" stroke-linecap="round"/>
<path d="M169.60,864.60 Q170.00,868.20 174.60,868.40 L192.60,868.40 Q196.80,868.20 197.10,864.60" stroke="#1c1c1c" stroke-width="1.2" fill="#fff" />
<path d="M169.60,864.60 Q183.60,867.20 197.10,864.60" stroke="#1c1c1c" stroke-width="0.9" fill="none" />
<path d="M175.30,865.40 L175.30,872.20 A8.3,2.8 0 0 0 191.90,872.20 L191.90,865.40 Q183.60,867.60 175.30,865.40 Z" stroke="#1c1c1c" stroke-width="1.0" fill="#333" />
<path d="M175.60,868.20 Q183.60,870.60 191.60,868.20" stroke="#aaa" stroke-width="0.6" fill="none" />
<path d="M175.60,870.40 Q183.60,872.80 191.60,870.40" stroke="#aaa" stroke-width="0.6" fill="none" />
<ellipse cx="183.60" cy="872.60" rx="5.6" ry="1.5" fill="#fff" stroke="#1c1c1c" stroke-width="0.7"/>
</g>
<g id="hsside">
<line x1="57.20" y1="655.30" x2="57.20" y2="735.00" stroke="#1c1c1c" stroke-width="1.0" />
<line x1="99.50" y1="655.30" x2="99.50" y2="862.00" stroke="#1c1c1c" stroke-width="1.0" />
<line x1="83.50" y1="664.50" x2="83.50" y2="762.00" stroke="#1c1c1c" stroke-width="1.0" />
<line x1="57.20" y1="656.60" x2="99.50" y2="656.60" stroke="#2c2c2c" stroke-width="1.1" />
<polygon points="57.20,656.60 68.20,653.40 68.20,659.80" fill="#222"/>
<polygon points="99.50,656.60 88.50,653.40 88.50,659.80" fill="#222"/>
<line x1="46.00" y1="669.80" x2="57.20" y2="669.80" stroke="#2c2c2c" stroke-width="1.1" />
<polygon points="57.20,669.80 47.20,666.60 47.20,673.00" fill="#222"/>
<line x1="83.50" y1="669.80" x2="95.00" y2="669.80" stroke="#2c2c2c" stroke-width="1.1" />
<polygon points="83.50,669.80 93.50,666.60 93.50,673.00" fill="#222"/>
<path d="M71.40,680.50 C70.70,680.75 68.47,681.27 67.20,682.00 C65.93,682.73 65.05,682.62 63.80,684.90 C62.55,687.18 60.72,691.60 59.70,695.70 C58.68,699.80 58.10,703.75 57.70,709.50 C57.30,715.25 57.27,723.28 57.30,730.20 C57.33,737.12 57.38,742.93 57.90,751.00 C58.42,759.07 59.53,770.43 60.40,778.60 C61.27,786.77 61.98,793.15 63.10,800.00 C64.22,806.85 65.15,811.27 67.10,819.70 C69.05,828.13 72.73,842.35 74.80,850.60 C76.87,858.85 78.72,866.10 79.50,869.20" stroke="#1c1c1c" stroke-width="1.2" fill="none" />
<line x1="79.50" y1="869.20" x2="99.60" y2="862.20" stroke="#1c1c1c" stroke-width="1.2" />
<path d="M71.40,680.50 C71.87,680.85 73.38,681.68 74.20,682.60 C75.02,683.52 75.73,684.60 76.30,686.00 C76.87,687.40 77.37,688.67 77.60,691.00 C77.83,693.33 77.68,698.50 77.70,700.00 L77.6,763" stroke="#1c1c1c" stroke-width="1.1" fill="none" />
<path d="M77.60,763.00 C77.48,764.50 76.92,769.00 76.90,772.00 C76.88,775.00 77.10,778.08 77.50,781.00 C77.90,783.92 78.58,786.93 79.30,789.50 C80.02,792.07 80.77,793.40 81.80,796.40 C82.83,799.40 84.22,803.62 85.50,807.50 C86.78,811.38 88.15,815.12 89.50,819.70 C90.85,824.28 92.30,829.85 93.60,835.00 C94.90,840.15 96.30,846.07 97.30,850.60 C98.30,855.13 99.22,860.27 99.60,862.20" stroke="#1c1c1c" stroke-width="1.2" fill="none" />
<path d="M71.5,680.8 L72.0,750 L72.2,772 C72.6,781 74.6,788.5 78.9,792" stroke="#1c1c1c" stroke-width="1.1" fill="none" />
<path d="M75.80,791.50 C76.50,794.25 78.30,800.58 80.00,808.00 C81.70,815.42 83.90,826.58 86.00,836.00 C88.10,845.42 91.50,859.75 92.60,864.50" stroke="#1c1c1c" stroke-width="1.0" fill="none" />
<line x1="82.60" y1="690.50" x2="82.60" y2="762.00" stroke="#1c1c1c" stroke-width="1.7" stroke-dasharray="4.2 1.2 6.5 1.4 3.2 1 7.5 1.3"/>
<rect x="78.60" y="691.30" width="2.30" height="3.00" stroke="#1c1c1c" stroke-width="0.2" fill="#2a2a2a" />
<line x1="80.90" y1="692.80" x2="82.60" y2="692.80" stroke="#1c1c1c" stroke-width="1.0" />
<rect x="78.60" y="697.10" width="2.30" height="3.00" stroke="#1c1c1c" stroke-width="0.2" fill="#2a2a2a" />
<line x1="80.90" y1="698.60" x2="82.60" y2="698.60" stroke="#1c1c1c" stroke-width="1.0" />
<rect x="78.60" y="703.10" width="2.30" height="3.00" stroke="#1c1c1c" stroke-width="0.2" fill="#2a2a2a" />
<line x1="80.90" y1="704.60" x2="82.60" y2="704.60" stroke="#1c1c1c" stroke-width="1.0" />
<rect x="78.60" y="713.30" width="2.30" height="3.00" stroke="#1c1c1c" stroke-width="0.2" fill="#2a2a2a" />
<line x1="80.90" y1="714.80" x2="82.60" y2="714.80" stroke="#1c1c1c" stroke-width="1.0" />
<rect x="78.60" y="721.90" width="2.30" height="3.00" stroke="#1c1c1c" stroke-width="0.2" fill="#2a2a2a" />
<line x1="80.90" y1="723.40" x2="82.60" y2="723.40" stroke="#1c1c1c" stroke-width="1.0" />
<rect x="78.60" y="728.90" width="2.30" height="3.00" stroke="#1c1c1c" stroke-width="0.2" fill="#2a2a2a" />
<line x1="80.90" y1="730.40" x2="82.60" y2="730.40" stroke="#1c1c1c" stroke-width="1.0" />
<rect x="78.60" y="738.70" width="2.30" height="3.00" stroke="#1c1c1c" stroke-width="0.2" fill="#2a2a2a" />
<line x1="80.90" y1="740.20" x2="82.60" y2="740.20" stroke="#1c1c1c" stroke-width="1.0" />
<rect x="78.60" y="746.90" width="2.30" height="3.00" stroke="#1c1c1c" stroke-width="0.2" fill="#2a2a2a" />
<line x1="80.90" y1="748.40" x2="82.60" y2="748.40" stroke="#1c1c1c" stroke-width="1.0" />
<rect x="78.60" y="755.10" width="2.30" height="3.00" stroke="#1c1c1c" stroke-width="0.2" fill="#2a2a2a" />
<line x1="80.90" y1="756.60" x2="82.60" y2="756.60" stroke="#1c1c1c" stroke-width="1.0" />
<path d="M83.2,761.5 L77.4,775.5 L79.6,764 Z" stroke="#1c1c1c" stroke-width="0.9" fill="#555" />
<g transform="rotate(-16 90.5 870)"><rect x="82.4" y="866.3" width="16.6" height="7.4" fill="#2a2a2a" stroke="#1c1c1c" stroke-width="0.8"/><line x1="82.4" y1="868.5" x2="99" y2="868.5" stroke="#999" stroke-width="0.5"/><line x1="82.4" y1="871" x2="99" y2="871" stroke="#999" stroke-width="0.5"/></g>
</g>
</svg>
</body></html>
